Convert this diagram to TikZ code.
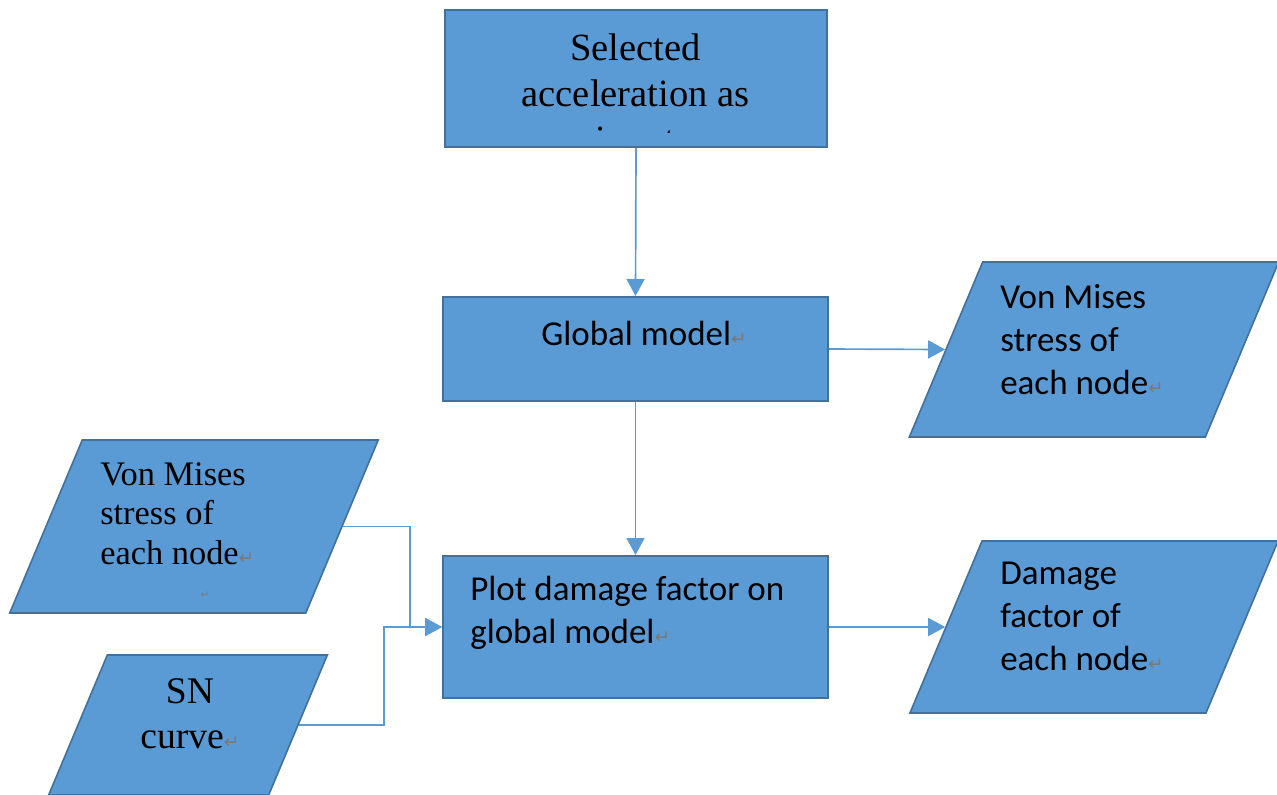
\documentclass[tikz,border=0pt]{standalone}
\usepackage{fontspec}
\setmainfont{Liberation Serif}
\newfontfamily\calfont{Carlito}
\newfontfamily\symfont{DejaVu Sans}
\usetikzlibrary{arrows.meta}
\definecolor{boxfill}{HTML}{5B9BD5}
\definecolor{boxline}{HTML}{41719C}
\definecolor{linkblue}{HTML}{5B9BD5}
\definecolor{retgray}{HTML}{7A7A7A}
% paragraph mark shown after the last line of a text
\newcommand{\retmark}{{\symfont\fontsize{14}{14}\selectfont\textcolor{retgray}{↵}}}
\begin{document}
\begin{tikzpicture}[x=0.75pt,y=-0.75pt,
  procbox/.style={rectangle, draw=boxline, fill=boxfill, line width=1.5pt, inner sep=0pt},
  iobox/.style={rectangle, draw=boxline, fill=boxfill, line width=1.2pt, inner sep=0pt, transform shape},
  slanted/.style={xslant=0.419},
  seriftxt/.style={inner sep=0pt, text=black},
  sanstxt/.style={inner sep=0pt, text=black, align=left,
    font=\calfont\fontsize{26.25}{32.25}\selectfont},
  link/.style={draw=linkblue, line width=1.25pt, -{Triangle[length=12.75pt,width=13.5pt]}}]
\useasboundingbox (0,0) rectangle (1277,794);

% process boxes
\node[procbox, minimum width=286.5pt, minimum height=102.75pt] (accel) at (636,78.5) {};
\node[procbox, minimum width=288.75pt, minimum height=78pt] (glob) at (635.5,349) {};
\node[procbox, minimum width=288.75pt, minimum height=106.5pt] (plot) at (635.5,627) {};

% input / output boxes (slanted rectangles)
\begin{scope}[shift={(1094,349.5)}, slanted]
  \node[iobox, minimum width=222pt, minimum height=131.25pt] (vmout) at (0,0) {};
\end{scope}
\begin{scope}[shift={(1094,627)}, slanted]
  \node[iobox, minimum width=222pt, minimum height=129pt] (dmg) at (0,0) {};
\end{scope}
\begin{scope}[shift={(194,526.5)}, slanted]
  \node[iobox, minimum width=222pt, minimum height=129.75pt] (vmin) at (0,0) {};
\end{scope}
\begin{scope}[shift={(188,725)}, slanted]
  \node[iobox, minimum width=165pt, minimum height=105pt] (sn) at (0,0) {};
\end{scope}

% texts (the third line of the top box runs past its text area)
\begin{scope}
  \clip (445,10) rectangle (827,132);
  \node[seriftxt, anchor=base, align=center, font=\fontsize{28.9}{34.5}\selectfont]
    (acceltxt) at (635.5,152.5) {Selected\\acceleration as\\input};
\end{scope}
\node[sanstxt, anchor=base west] (globtxt) at (541,345) {Global model\retmark};
\node[sanstxt, anchor=base west] (plottxt) at (470,643) {Plot damage factor on\\global model\retmark};
\node[sanstxt, anchor=base west] (vmouttxt) at (1000,394) {Von Mises\\stress of\\each node\retmark};
\node[sanstxt, anchor=base west] (dmgtxt) at (1000,670) {Damage\\factor of\\each node\retmark};
\node[seriftxt, anchor=base west, align=left, font=\fontsize{25.8}{29.6}\selectfont]
  (vmintxt) at (100,564) {Von Mises\\stress of\\each node\retmark};
\node[seriftxt, anchor=base, text=retgray, font=\symfont\fontsize{8}{8}\selectfont]
  (vminmark) at (205,598) {↵};
\node[seriftxt, anchor=base, align=center, font=\fontsize{28.2}{33.75}\selectfont]
  (sntxt) at (190,748) {SN\\curve\retmark};

% connectors
\coordinate (jvm) at (410,627);
\coordinate (jsn) at (384,627);
\draw[link] (accel.south) -- (glob.north);
\draw[link] (glob.east) -- (vmout.west);
\draw[link] (glob.south) -- (plot.north);
\draw[link] (plot.east) -- (dmg.west);
\draw[link] (vmin.east) -| (jvm) -- (plot.west);
\draw[link] (sn.east) -| (jsn) -- (plot.west);
\end{tikzpicture}
\end{document}
